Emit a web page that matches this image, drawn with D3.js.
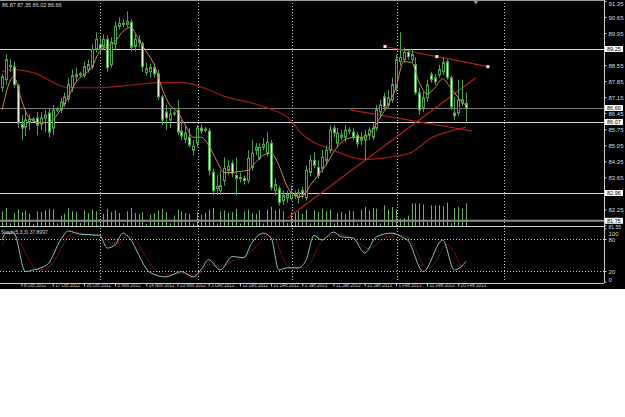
<!DOCTYPE html>
<html>
<head>
<meta charset="utf-8">
<script src="https://cdnjs.cloudflare.com/ajax/libs/d3/7.8.5/d3.min.js"></script>
<style>
body { margin: 0; background: #fff; }
svg text { font-family: "Liberation Sans", sans-serif; }
</style>
</head>
<body>
<div id="chart"></div>
<script>
// daily candles
var opens = [87.56,87.91,88.53,88.48,87.65,85.97,85.84,86.06,86.19,86.24,
    85.97,86.24,86.46,85.80,86.59,86.59,86.85,87.07,87.56,88.04,
    88.13,88.09,88.35,88.48,89.23,89.45,89.36,89.67,88.57,89.45,
    90.24,90.37,90.33,90.42,89.36,89.63,89.49,88.22,88.26,88.44,
    88.17,87.16,86.50,86.15,86.41,86.59,85.67,85.31,85.40,84.83,
    85.14,85.80,85.75,85.67,83.86,83.16,83.07,83.51,83.95,84.26,
    83.73,83.64,83.60,83.51,84.08,84.83,84.48,84.96,84.70,85.14,
    83.07,83.16,82.63,82.76,82.72,82.89,82.76,83.07,82.76,83.86,
    84.39,84.08,84.04,84.39,84.83,85.80,85.14,85.40,85.40,85.67,
    85.62,85.49,85.27,85.27,85.49,85.40,85.80,86.50,87.16,86.81,
    87.03,87.56,88.70,88.79,89.10,88.79,88.57,87.34,86.68,87.12,
    88.13,88.00,88.13,88.26,88.70,88.00,86.46,86.46,86.90,86.87];
var highs = [88.17,89.01,88.79,88.70,87.73,86.37,86.59,86.41,86.28,86.50,
    86.50,86.59,86.68,86.81,86.72,87.12,87.34,88.00,88.35,88.44,
    88.26,88.70,88.79,89.45,89.98,89.76,89.89,89.85,89.76,90.46,
    90.64,90.55,90.90,90.55,89.89,89.85,89.58,88.66,88.61,88.61,
    88.35,87.25,86.81,86.68,86.55,87.03,86.15,85.93,85.80,85.27,
    85.93,85.97,85.84,85.80,84.04,83.73,83.95,84.52,84.39,84.39,
    84.52,83.86,83.73,84.83,85.27,85.14,85.14,85.36,85.62,85.27,
    83.60,83.29,83.07,83.07,83.29,83.07,83.16,83.25,84.17,84.61,
    84.74,84.39,84.83,85.05,85.93,85.93,85.80,85.71,85.93,85.84,
    85.80,85.62,85.62,85.71,85.84,86.02,86.81,87.03,87.34,87.47,
    88.00,89.01,89.98,89.32,89.23,89.23,88.88,87.56,87.38,87.91,
    88.26,88.17,88.57,88.88,88.79,88.09,87.16,87.91,87.91,87.35];
var lows = [87.38,87.69,88.26,87.56,85.80,85.27,85.45,85.71,86.06,85.49,
    85.71,85.62,85.40,85.49,86.50,86.46,86.72,86.94,87.38,87.82,
    88.04,88.00,88.22,88.35,89.10,89.01,89.23,88.26,88.44,89.23,
    90.11,90.20,90.20,89.14,89.14,89.32,88.26,88.09,88.00,88.00,
    87.03,85.93,85.71,85.80,86.33,85.49,85.27,85.14,84.96,84.61,
    84.96,85.53,85.62,83.73,82.85,82.89,82.89,83.29,83.73,83.64,
    82.85,83.42,83.33,83.38,83.95,84.61,84.39,84.83,84.57,83.07,
    82.85,82.41,82.45,82.54,82.63,82.72,82.50,82.72,82.63,83.69,
    84.04,83.60,83.86,84.17,84.70,85.40,84.96,85.27,85.18,85.53,
    85.27,84.96,85.05,84.39,85.27,85.27,85.67,86.24,86.59,86.68,
    86.90,87.38,88.53,88.66,88.79,88.66,87.25,86.37,86.50,86.94,
    87.78,87.69,88.00,88.13,87.91,86.59,86.15,86.33,86.77,86.02];
var closes = [88.04,88.79,88.48,87.69,86.02,85.80,86.15,86.19,86.15,85.93,
    86.24,86.37,85.62,86.59,86.63,86.94,87.16,87.69,88.09,88.13,
    88.17,88.48,88.57,89.23,89.67,89.23,89.67,88.44,89.54,90.24,
    90.37,90.33,90.46,89.32,89.67,89.54,88.48,88.39,88.44,88.17,
    87.16,86.15,86.24,86.41,86.46,85.62,85.45,85.58,85.05,85.01,
    85.80,85.67,85.71,83.95,83.07,83.25,83.29,84.04,84.13,83.82,
    83.60,83.60,83.51,84.48,84.70,84.96,84.96,85.09,85.18,83.20,
    83.33,82.54,82.85,82.89,82.98,82.85,82.98,82.89,83.95,84.39,
    84.17,83.73,84.52,84.83,85.71,85.58,85.58,85.49,85.71,85.71,
    85.40,85.14,85.36,85.49,85.71,85.80,86.59,86.81,86.72,87.12,
    87.69,88.79,88.88,89.10,88.92,89.01,87.34,86.59,87.12,87.69,
    87.91,87.82,88.35,88.66,88.00,86.72,86.33,87.03,87.03,86.66];
var volumes = [17000,21000,3000,15000,19000,16000,18000,14000,2500,17000,
    16000,18000,20000,19000,3000,12000,14000,21000,17000,16000,
    3500,18000,15000,19000,17000,3000,14000,20000,16000,18000,
    15000,3000,17000,21000,15000,14000,16000,2500,13000,15000,
    18000,20000,16000,3000,12000,19000,17000,15000,14000,3000,
    16000,13000,15000,19000,21000,3000,17000,18000,15000,16000,
    20000,3000,17000,19000,15000,14000,18000,3000,19000,22000,
    18000,20000,17000,3500,16000,15000,17000,14000,19000,3000,
    18000,16000,20000,17000,19000,3000,15000,16000,14000,18000,
    17000,3000,19000,22000,18000,21000,20000,3000,24000,19000,
    22000,19000,8000,9000,12000,26000,26000,26000,25000,5000,
    24000,24000,24000,23000,27000,3000,21000,22000,20000,26000];

// moving averages as [bar, price]
var maFast = [[0,86.59],[3,88.04],[5,87.03],[7,86.24],[10,86.02],[12,86.06],[15,86.59],
    [17,87.16],[19,87.82],[21,88.13],[23,88.44],[25,89.14],[27,89.36],[29,89.58],
    [31,90.02],[33,90.20],[35,89.67],[37,89.14],[39,88.57],[41,87.56],[43,86.81],
    [45,86.50],[47,85.93],[49,85.40],[51,85.40],[53,85.05],[55,84.39],[57,83.86],
    [59,83.86],[61,83.91],[63,83.95],[65,84.30],[67,84.61],[69,84.70],[71,84.17],
    [73,83.29],[75,82.85],[77,82.81],[79,83.29],[81,83.73],[83,84.17],[85,84.74],
    [87,85.18],[89,85.36],[91,85.40],[93,85.40],[95,85.71],[97,86.28],[99,86.81],
    [101,87.56],[103,88.70],[105,88.66],[107,87.78],[109,87.29],[111,87.56],
    [113,87.95],[115,87.56],[117,87.12],[119,86.77]];
var maSlow = [[0,88.26],[3,88.35],[8,88.22],[17,87.56],[25,87.56],[34,87.69],[40,87.78],
    [46,87.78],[51,87.60],[53,87.47],[56,87.25],[68,86.68],[74,86.15],[76,85.71],
    [85,84.83],[93,84.43],[99,84.52],[105,84.74],[110,85.36],[116,85.71],[119,85.84]];

// stochastic as [bar, value]
var stochMain = [[0,78],[1,91],[3,91],[6,19],[8,22],[10,26],[12,35],[15,78],[17,95],
    [20,89],[25,87],[27,63],[29,69],[31,91],[32,87],[38,17],[42,9],[46,19],[49,9],
    [51,22],[53,41],[56,22],[59,47],[62,45],[64,72],[67,91],[69,82],[71,22],[73,26],
    [76,26],[78,41],[80,87],[82,78],[85,93],[87,84],[90,82],[93,54],[96,84],[100,91],
    [103,82],[104,78],[108,19],[113,78],[116,22],[119,37.9]];
var stochSignal = [[0,70],[2,88],[4,80],[7,40],[9,22],[11,24],[13,35],[15,60],[17,85],
    [19,92],[22,88],[26,86],[28,72],[30,72],[32,86],[34,80],[37,45],[40,18],[43,13],
    [46,15],[49,13],[51,18],[53,32],[56,28],[59,38],[62,46],[65,64],[68,86],[70,80],
    [72,45],[74,26],[77,26],[79,34],[81,65],[83,82],[86,88],[89,84],[92,70],[94,62],
    [97,76],[101,88],[104,84],[106,60],[109,25],[111,35],[114,70],[116,55],[118,28],[119,31]];

// trend lines as [bar, price] pairs
var trendLines = [
    [[98.2,89.36],[124.6,88.48]],
    [[73.3,81.88],[121.5,88.00]],
    [[89.2,86.59],[120.5,85.67]]
];
var trendDots = [[98.2,89.36],[111.5,88.92],[124.6,88.48]];

var priceTicks = [91.35,90.65,89.95,88.55,87.85,87.15,86.45,85.75,85.05,84.35,83.65,82.25,81.55];
var levelLines = [89.25,86.07,82.96];
var bidPrice = 86.66;
var lowLevel = 81.75;
var boxPrices = [89.25,86.66,86.07,82.96,81.75];
var stochTicks = [100,80,20,0];
var stochLevels = [80,20];
var monthBreaks = [25.1,50.3,74.4,101.3,128.7];
var dateTicks = [5,13,21,29,37,45,53,61,69,77,85,93,101,109,117];
var dateLabels = ["8 Oct 2012","17 Oct 2012","26 Oct 2012","5 Nov 2012","14 Nov 2012",
    "23 Nov 2012","3 Dec 2012","12 Dec 2012","21 Dec 2012","2 Jan 2013","11 Jan 2013",
    "21 Jan 2013","1 Feb 2013","11 Feb 2013","20 Feb 2013"];
var ohlcText = "86.87 87.35 86.02 86.66";
var stochText = "Stoch(5,3,3) 37.8997";

var width = 625, height = 417,
    axisX = 604, mainBottom = 226, subTop = 228, subBottom = 282, frameBottom = 283;

var green = "#4fa24f", bearFill = "#e6f6dc", grid = "#c8c8c8";

var svg = d3.select("#chart").append("svg")
    .attr("width", width)
    .attr("height", height)
    .style("display", "block");

svg.append("rect").attr("width", width).attr("height", height).attr("fill", "#fff");
svg.append("rect").attr("width", width).attr("height", 289).attr("fill", "#000");

var x = d3.scaleLinear().domain([0, 119]).range([2, 466.1]);
var y = d3.scaleLinear().domain([81.48, 91.39]).range([227, 0]);
var yVol = d3.scaleLinear().domain([0, 30000]).range([mainBottom, 200]);
var yStoch = d3.scaleLinear().domain([0, 100]).range([281.7, 228.3]);

var defs = svg.append("defs");
defs.append("clipPath").attr("id", "mainClip")
    .append("rect").attr("x", 0).attr("y", 1).attr("width", axisX).attr("height", mainBottom - 1);
defs.append("clipPath").attr("id", "subClip")
    .append("rect").attr("x", 0).attr("y", subTop).attr("width", axisX).attr("height", subBottom - subTop);

var main = svg.append("g").attr("clip-path", "url(#mainClip)");
var sub = svg.append("g").attr("clip-path", "url(#subClip)");

// month separators
[main, sub].forEach(function(g) {
    g.selectAll("line.sep").data(monthBreaks).enter().append("line")
        .attr("class", "sep")
        .attr("x1", function(d) { return Math.round(x(d)) + 0.5; })
        .attr("x2", function(d) { return Math.round(x(d)) + 0.5; })
        .attr("y1", 0).attr("y2", frameBottom)
        .attr("stroke", grid)
        .attr("stroke-dasharray", "1,2");
});

// volumes
main.selectAll("line.vol").data(volumes).enter().append("line")
    .attr("class", "vol")
    .attr("x1", function(d, i) { return Math.round(x(i)) + 0.5; })
    .attr("x2", function(d, i) { return Math.round(x(i)) + 0.5; })
    .attr("y1", yVol(0))
    .attr("y2", function(d) { return yVol(d); })
    .attr("stroke", "#6fae68");

// price levels
main.selectAll("line.level").data(levelLines).enter().append("line")
    .attr("x1", 0).attr("x2", axisX)
    .attr("y1", function(d) { return Math.round(y(d)) + 0.5; })
    .attr("y2", function(d) { return Math.round(y(d)) + 0.5; })
    .attr("stroke", "#d8d8d8");
main.append("line")
    .attr("x1", 0).attr("x2", axisX)
    .attr("y1", Math.round(y(bidPrice)) + 0.5).attr("y2", Math.round(y(bidPrice)) + 0.5)
    .attr("stroke", "#7a7a7a");
main.append("line")
    .attr("x1", 0).attr("x2", axisX)
    .attr("y1", y(lowLevel)).attr("y2", y(lowLevel))
    .attr("stroke", "#8c8c8c").attr("stroke-width", 2);

// moving averages
var line = d3.line()
    .x(function(d) { return x(d[0]); })
    .y(function(d) { return y(d[1]); })
    .curve(d3.curveMonotoneX);

main.append("path").datum(maSlow)
    .attr("d", line)
    .attr("fill", "none")
    .attr("stroke", "#9c1a1a")
    .attr("stroke-width", 1.2);

// trend lines
main.selectAll("line.trend").data(trendLines).enter().append("line")
    .attr("x1", function(d) { return x(d[0][0]); })
    .attr("y1", function(d) { return y(d[0][1]); })
    .attr("x2", function(d) { return x(d[1][0]); })
    .attr("y2", function(d) { return y(d[1][1]); })
    .attr("stroke", "#b02222")
    .attr("stroke-width", 1.2);

// candles
var candles = main.selectAll("g.candle").data(opens).enter().append("g");
candles.append("line")
    .attr("x1", function(d, i) { return Math.round(x(i)) + 0.5; })
    .attr("x2", function(d, i) { return Math.round(x(i)) + 0.5; })
    .attr("y1", function(d, i) { return y(highs[i]); })
    .attr("y2", function(d, i) { return y(lows[i]); })
    .attr("stroke", green);
candles.append("rect")
    .attr("x", function(d, i) { return Math.round(x(i)) - 0.5; })
    .attr("width", 2)
    .attr("y", function(d, i) { return y(Math.max(d, closes[i])); })
    .attr("height", function(d, i) { return Math.max(1, Math.abs(y(d) - y(closes[i]))); })
    .attr("fill", function(d, i) { return closes[i] < d ? bearFill : "#000"; })
    .attr("stroke", green);

main.append("path").datum(maFast)
    .attr("d", line)
    .attr("fill", "none")
    .attr("stroke", "#c98a55")
    .attr("stroke-width", 1);

main.selectAll("rect.dot").data(trendDots).enter().append("rect")
    .attr("x", function(d) { return x(d[0]) - 1.5; })
    .attr("y", function(d) { return y(d[1]) - 1.5; })
    .attr("width", 3).attr("height", 3)
    .attr("fill", "#ffe0e0");

// stochastic window
sub.selectAll("line.lvl").data(stochLevels).enter().append("line")
    .attr("x1", 0).attr("x2", axisX)
    .attr("y1", function(d) { return Math.round(yStoch(d)) + 0.5; })
    .attr("y2", function(d) { return Math.round(yStoch(d)) + 0.5; })
    .attr("stroke", grid)
    .attr("stroke-dasharray", "1,2");

var sline = d3.line()
    .x(function(d) { return x(d[0]); })
    .y(function(d) { return yStoch(d[1]); })
    .curve(d3.curveMonotoneX);

sub.append("path").datum(stochSignal)
    .attr("d", sline)
    .attr("fill", "none")
    .attr("stroke", "#c02424")
    .attr("stroke-dasharray", "1,1");
sub.append("path").datum(stochMain)
    .attr("d", sline)
    .attr("fill", "none")
    .attr("stroke", "#8ec4b2")
    .attr("stroke-width", 1);

// frame
svg.append("line").attr("x1", 0).attr("x2", axisX).attr("y1", 0.5).attr("y2", 0.5).attr("stroke", "#9a9a9a");
svg.append("line").attr("x1", 0).attr("x2", axisX).attr("y1", mainBottom + 0.5).attr("y2", mainBottom + 0.5).attr("stroke", "#d0d0d0");
svg.append("line").attr("x1", 0).attr("x2", axisX).attr("y1", frameBottom + 0.5).attr("y2", frameBottom + 0.5).attr("stroke", "#d0d0d0");
svg.append("line").attr("x1", axisX + 0.5).attr("x2", axisX + 0.5).attr("y1", 0).attr("y2", frameBottom).attr("stroke", "#d0d0d0");

// shift marker
svg.append("path")
    .attr("d", d3.symbol().type(d3.symbolTriangle).size(10))
    .attr("transform", "translate(" + x(121.5) + ",2) rotate(180)")
    .attr("fill", "#9a9a9a");

// price axis
var priceAxis = svg.append("g")
    .attr("transform", "translate(" + (axisX + 0.5) + ",0)")
    .call(d3.axisRight(y).tickValues(priceTicks).tickSize(2).tickFormat(d3.format(".2f")));
priceAxis.select(".domain").remove();
priceAxis.selectAll("line").attr("stroke", "#d0d0d0");
priceAxis.selectAll("text")
    .attr("x", 4)
    .attr("dy", null)
    .attr("y", function(d) {
        if (y(d) < 4) return 6 - y(d);
        return d < 82 ? 2.9 : 2.4;
    })
    .attr("fill", "#d8d8d8")
    .style("font-size", function(d) { return d < 82 ? "5px" : "6px"; });

var boxes = svg.selectAll("g.box").data(boxPrices).enter().append("g")
    .attr("transform", function(d) {
        return "translate(" + (axisX + 1) + "," + (d < 82 ? y(d) : Math.round(y(d))) + ")";
    });
boxes.append("rect")
    .attr("x", 0).attr("y", -3).attr("width", 18).attr("height", 6)
    .attr("fill", "#fff");
boxes.append("text")
    .attr("x", 2).attr("y", 2.1)
    .attr("fill", "#000")
    .style("font-size", "5.5px")
    .text(function(d) { return d.toFixed(2); });

// stochastic axis
var stochAxis = svg.append("g")
    .attr("transform", "translate(" + (axisX + 0.5) + ",0)")
    .call(d3.axisRight(yStoch).tickValues(stochTicks).tickSize(2));
stochAxis.select(".domain").remove();
stochAxis.selectAll("line").attr("stroke", "#d0d0d0");
stochAxis.selectAll("text")
    .attr("x", 4)
    .attr("dy", null)
    .attr("y", function(d) { return d === 100 ? 6.9 : (d === 0 ? -0.5 : 2.2); })
    .attr("fill", "#d8d8d8")
    .style("font-size", "6px");

// time axis
var timeAxis = svg.append("g")
    .attr("transform", "translate(0," + (frameBottom + 0.5) + ")")
    .call(d3.axisBottom(x).tickValues(dateTicks).tickSize(3)
        .tickFormat(function(d, i) { return dateLabels[i]; }));
timeAxis.select(".domain").remove();
timeAxis.selectAll("line").attr("stroke", "#d0d0d0");
timeAxis.selectAll("text")
    .attr("y", 0.5)
    .attr("x", 2)
    .attr("dy", "0.71em")
    .attr("text-anchor", "start")
    .attr("fill", "#c8c8c8")
    .style("font-size", "4.5px");

// window titles
svg.append("text")
    .attr("x", 2).attr("y", 7)
    .attr("fill", "#d8d8d8")
    .style("font-size", "5.5px")
    .text(ohlcText);
svg.append("text")
    .attr("x", 1).attr("y", subTop + 6)
    .attr("fill", "#d8d8d8")
    .style("font-size", "5px")
    .text(stochText);
</script>
</body>
</html>
